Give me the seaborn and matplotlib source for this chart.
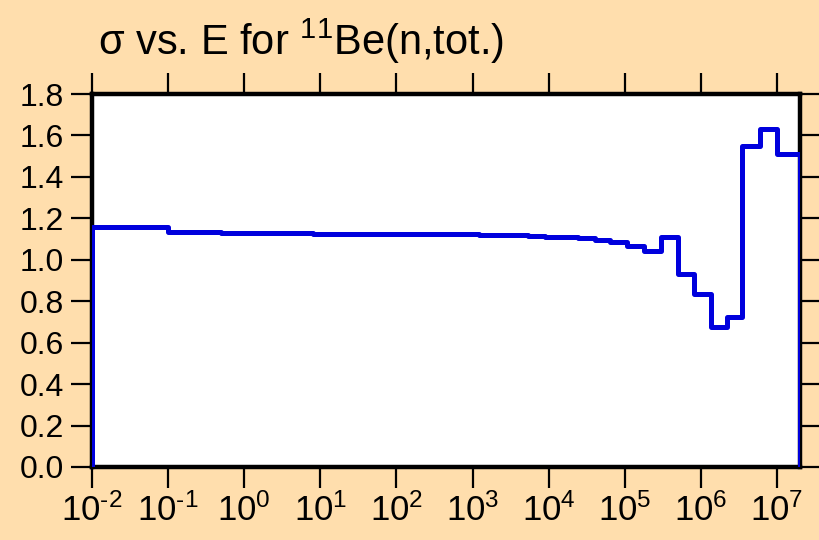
import numpy as np
import pandas as pd
import matplotlib
matplotlib.use("Agg")
import matplotlib.pyplot as plt
import matplotlib.ticker as mticker
import seaborn as sns

# group boundaries (eV) and total cross section in each group (b)
edges = [1e-2, 1e-1, 0.5, 3.8, 8, 23, 140, 720, 1.2e3, 3.1e3, 5.3e3, 8.9e3,
         1.4e4, 2.4e4, 4e4, 6.3e4, 1.07e5, 1.8e5, 3e5, 5e5, 8.2e5, 1.35e6,
         2.2e6, 3.5e6, 6e6, 1e7, 2e7]
sigma = [1.16, 1.135, 1.128, 1.127, 1.126, 1.125, 1.124, 1.123, 1.121, 1.119,
         1.116, 1.112, 1.108, 1.103, 1.095, 1.085, 1.065, 1.04, 1.11, 0.93,
         0.835, 0.675, 0.725, 1.55, 1.63, 1.51]
decades = [-2, -1, 0, 1, 2, 3, 4, 5, 6, 7]

xs = [edges[0]] + edges + [edges[-1]]
ys = [0.0] + sigma + [sigma[-1], 0.0]
df = pd.DataFrame({"E": xs, "sigma": ys})

sns.set_style("white")
plt.rcParams["font.family"] = ["Liberation Sans", "DejaVu Sans"]
plt.rcParams["mathtext.fontset"] = "custom"
plt.rcParams["mathtext.rm"] = "Liberation Sans"
plt.rcParams["mathtext.it"] = "Liberation Sans:italic"
plt.rcParams["axes.unicode_minus"] = False
plt.rcParams["text.color"] = "black"
plt.rcParams["xtick.color"] = "black"
plt.rcParams["ytick.color"] = "black"

bg = "#FFDEAD"
fig = plt.figure(figsize=(8.2, 5.4), dpi=100, facecolor=bg)
ax = fig.add_axes([0.1122, 0.1352, 0.8634, 0.6907])
ax.set_facecolor("white")

sns.lineplot(data=df, x="E", y="sigma", ax=ax, sort=False, estimator=None,
             drawstyle="steps-post", color="#0000DD", linewidth=3.6, zorder=3)

ax.set_xscale("log")
ax.set_xlim(1e-2, 2e7)
ax.set_ylim(0, 1.8)
ax.xaxis.set_major_locator(mticker.FixedLocator([10.0 ** d for d in decades]))
ax.xaxis.set_major_formatter(mticker.FuncFormatter(
    lambda v, p: r"10$^{\text{%d}}$" % round(np.log10(v))))
ax.xaxis.set_minor_locator(mticker.NullLocator())
ax.yaxis.set_major_locator(mticker.MultipleLocator(0.2))
ax.yaxis.set_major_formatter(mticker.FormatStrFormatter("%.1f"))

for s in ax.spines.values():
    s.set_linewidth(3.2)
    s.set_color("black")

ax.tick_params(axis="both", which="major", direction="out", length=15,
               width=1.6, color="black", labelcolor="black",
               top=True, right=True, bottom=True, left=True)
ax.tick_params(axis="x", pad=4, labelsize=25)
ax.tick_params(axis="y", pad=5, labelsize=23)
ax.set_xlabel("")
ax.set_ylabel("")

ax.set_title(r"σ vs. E for $^{11}$Be(n,tot.)", loc="left", fontsize=30,
             pad=28, x=0.008, color="black")

fig.savefig("out.png", dpi=100, facecolor=bg)
